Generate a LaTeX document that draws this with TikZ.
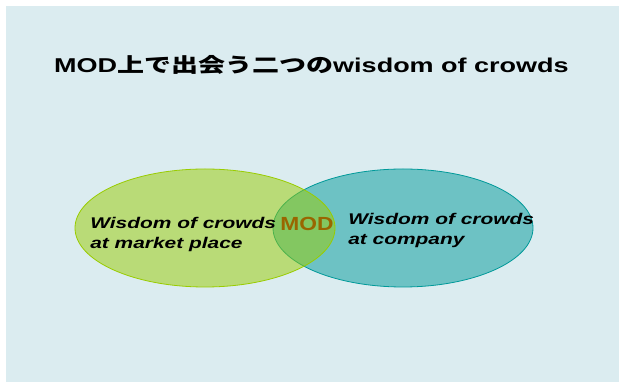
\documentclass[tikz,border=0pt]{standalone}
\usepackage{fontspec}
\setmainfont{Liberation Sans}
\newfontfamily\jpfont{Noto Sans CJK JP}
\usepackage{xcolor}
\usetikzlibrary{positioning,shapes.geometric}

\definecolor{fondo}{HTML}{DBECF0}
\definecolor{verde}{HTML}{99CC00}
\definecolor{turq}{HTML}{009999}
\definecolor{ocre}{HTML}{996600}

\begin{document}
\begin{tikzpicture}[
  x=1pt, y=1pt,
  ancho/.style={xscale=1.35, transform shape},
  titulo/.style={ancho, font=\fontsize{20}{24}\selectfont\bfseries, inner sep=0pt},
  conj/.style={ellipse, minimum width=260pt, minimum height=118pt, line width=0.8pt, fill opacity=0.5, draw opacity=1},
  etq/.style={ancho, font=\fontsize{15.5}{20.5}\selectfont\bfseries\itshape, align=left, inner sep=0pt},
  centro/.style={xscale=1.2, transform shape, font=\fontsize{19}{22}\selectfont\bfseries, text=ocre, inner sep=0pt}
]
\useasboundingbox (0,0) rectangle (619,382);
\fill[fondo] (6,0) rectangle (619,376);

% Titulo
\node[titulo, anchor=base] (tit) at (311.5,309) {MOD{\jpfont 上で出会う二つの}wisdom of crowds};

% Conjuntos (el verde va encima)
\node[conj, draw=turq, fill=turq]   (emp) at (403,154) {};
\node[conj, draw=verde, fill=verde] (mer) at (205,154) {};

% Textos
\node[etq, anchor=north west] (tmer) at (90,165)  {Wisdom of crowds\\at market place};
\node[etq, anchor=north west] (temp) at (348,169) {Wisdom of crowds\\at company};
\node[centro, anchor=base] (mod) at (307,151) {MOD};
\end{tikzpicture}
\end{document}
